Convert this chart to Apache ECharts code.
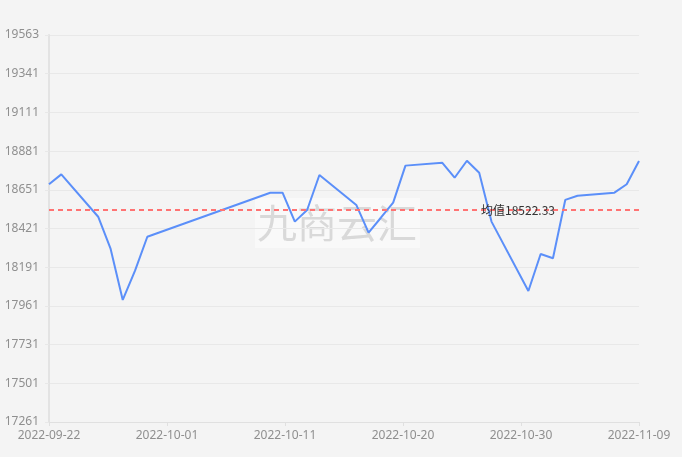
<!DOCTYPE html>
<html>
<head>
<meta charset="utf-8">
<script src="https://cdn.jsdelivr.net/npm/echarts@6/dist/echarts.min.js"></script>
<style>
html,body{margin:0;padding:0;background:#f4f4f4;}
#main{width:682px;height:457px;}
</style>
</head>
<body>
<div id="main"></div>
<script>
const dates = ['2022-09-22','2022-09-23','2022-09-26','2022-09-27','2022-09-28','2022-09-29','2022-09-30',
  '2022-10-10','2022-10-11','2022-10-12','2022-10-13','2022-10-14',
  '2022-10-17','2022-10-18','2022-10-19','2022-10-20','2022-10-21',
  '2022-10-24','2022-10-25','2022-10-26','2022-10-27','2022-10-28',
  '2022-10-31','2022-11-01','2022-11-02','2022-11-03','2022-11-04',
  '2022-11-07','2022-11-08','2022-11-09'];
const values = [18675,18734,18482,18294,17987,18161,18363,
  18625,18625,18453,18522,18730,
  18552,18387,18476,18566,18786,
  18803,18714,18815,18744,18453,
  18040,18260,18235,18582,18607,
  18625,18675,18814];
const meanValue = 18522.33;
const xTickLabels = ['2022-09-22','2022-10-01','2022-10-11','2022-10-20','2022-10-30','2022-11-09'];
const yTickLabels = ['17261','17501','17731','17961','18191','18421','18651','18881','19111','19341','19563'];

const DAY = 86400000;
const t0 = Date.parse(dates[0]);
const tEnd = Date.parse(xTickLabels[xTickLabels.length - 1]);
const spanDays = (tEnd - t0) / DAY;
const xInterval = spanDays / (xTickLabels.length - 1);
const yMin = Number(yTickLabels[0]);
const yMax = Number(yTickLabels[yTickLabels.length - 1]);
const yInterval = (yMax - yMin) / (yTickLabels.length - 1);
const seriesData = dates.map((d, i) => [(Date.parse(d) - t0) / DAY, values[i]]);

const chart = echarts.init(document.getElementById('main'), null, {renderer: 'canvas'});
chart.setOption({
  backgroundColor: '#f4f4f4',
  animation: false,
  grid: {left: 49, right: 43, top: 35, bottom: 35, containLabel: false},
  xAxis: {
    type: 'value',
    min: 0,
    max: spanDays,
    interval: xInterval,
    axisLine: {show: true, lineStyle: {color: '#e0e0e0', width: 1}},
    axisTick: {show: true, length: 4, lineStyle: {color: '#e0e0e0'}},
    splitLine: {show: false},
    axisLabel: {
      color: '#8f8f8f', fontSize: 12, margin: 8,
      fontFamily: 'Noto Sans, sans-serif',
      formatter: v => xTickLabels[Math.round(v / xInterval)] || ''
    }
  },
  yAxis: {
    type: 'value',
    min: yMin,
    max: yMax,
    interval: yInterval,
    axisLine: {show: true, lineStyle: {color: '#e3e3e3', width: 2}},
    axisTick: {show: true, length: 4, lineStyle: {color: '#e8e8e8'}},
    splitLine: {show: true, lineStyle: {color: '#e8e8e8', width: 1}},
    axisLabel: {
      color: '#8f8f8f', fontSize: 12, margin: 10,
      fontFamily: 'Noto Sans, sans-serif',
      formatter: v => yTickLabels[Math.round((v - yMin) / yInterval)] || ''
    }
  },
  graphic: [{
    type: 'group',
    left: 255,
    top: 198,
    z: 100,
    silent: true,
    children: [
      {type: 'rect', shape: {x: 0, y: 0, width: 165, height: 50}, style: {fill: 'rgba(255,255,255,0.45)'}},
      {type: 'text', x: 82, y: 25, style: {text: '九商云汇', fill: 'rgba(205,205,205,0.75)', font: '40px "Noto Sans CJK SC"', textAlign: 'center', textVerticalAlign: 'middle'}}
    ]
  }],
  series: [{
    type: 'line',
    data: seriesData,
    showSymbol: false,
    symbol: 'none',
    lineStyle: {color: '#5b8ff9', width: 2},
    itemStyle: {color: '#5b8ff9'},
    markLine: {
      silent: true,
      symbol: 'none',
      lineStyle: {color: '#ff7373', width: 2, type: [5, 4]},
      label: {
        show: true,
        position: 'insideMiddle',
        color: '#333',
        fontSize: 12,
        fontFamily: 'Noto Sans CJK SC',
        padding: [0, 0, 0, 348],
        formatter: '均值' + meanValue
      },
      data: [{yAxis: meanValue}]
    }
  }]
});
</script>
</body>
</html>
